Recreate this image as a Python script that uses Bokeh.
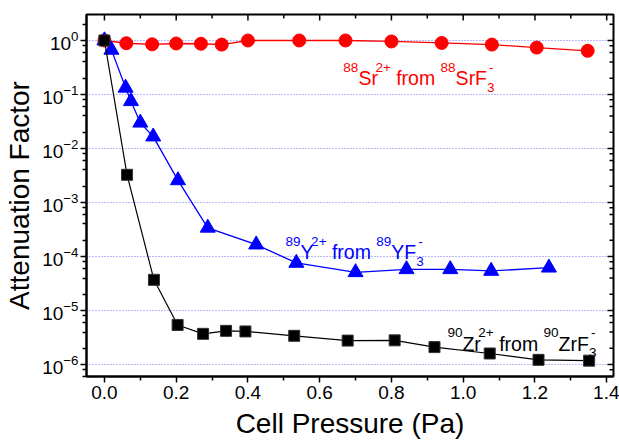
import math
from bokeh.plotting import figure
from bokeh.models import (Range1d, FixedTicker, Label, LogTickFormatter, NumeralTickFormatter)
from bokeh.embed import file_html
from bokeh.resources import INLINE

# ---- data ----
sr_x = [0.0, 0.061, 0.133, 0.200, 0.269, 0.327, 0.400, 0.543, 0.672, 0.800, 0.940, 1.080, 1.205, 1.347]
sr_y = [1.0, 0.89, 0.85, 0.88, 0.87, 0.84, 1.0, 1.0, 1.0, 0.96, 0.90, 0.84, 0.74, 0.645]

yy_x = [0.0, 0.0195, 0.059, 0.074, 0.100, 0.136, 0.205, 0.288, 0.423, 0.535, 0.700, 0.842, 0.964, 1.078, 1.239]
yy_y = [1.0, 0.67, 0.133, 0.075, 0.030, 0.0166, 0.00257, 3.4e-4, 1.66e-4, 7.6e-5, 5.1e-5, 5.8e-5, 5.8e-5, 5.4e-5, 6.2e-5]

zr_x = [0.0, 0.063, 0.138, 0.204, 0.275, 0.339, 0.393, 0.529, 0.678, 0.809, 0.920, 1.074, 1.210, 1.351]
zr_y = [1.0, 3.26e-3, 3.7e-5, 5.4e-6, 3.7e-6, 4.2e-6, 4.1e-6, 3.4e-6, 2.77e-6, 2.8e-6, 2.1e-6, 1.6e-6, 1.22e-6, 1.18e-6]

x_ticks = [0.0, 0.2, 0.4, 0.6, 0.8, 1.0, 1.2, 1.4]
x_minor = [0.1, 0.3, 0.5, 0.7, 0.9, 1.1, 1.3]
y_ticks = [1e-6, 1e-5, 1e-4, 1e-3, 1e-2, 1e-1, 1e0]
y_minor = [m * 10.0 ** e for e in range(-7, 1) for m in (2, 4, 6, 8)]

FONT = "Liberation Sans"
X0, X1 = -0.05, 1.419
Y0, Y1 = 6.0e-7, 3.03
FRAME_W, FRAME_H = 527.0, 362.0

p = figure(width=619, height=442, output_backend="svg", toolbar_location=None,
           y_axis_type="log",
           x_range=Range1d(X0, X1), y_range=Range1d(Y0, Y1),
           min_border_left=86, min_border_top=14, min_border_right=6, min_border_bottom=66)

p.background_fill_color = "white"
p.border_fill_color = "white"
p.outline_line_color = "black"
p.outline_line_width = 2
p.xgrid.visible = False
p.ygrid.ticker = FixedTicker(ticks=y_ticks)
p.ygrid.grid_line_color = "#7070ff"
p.ygrid.grid_line_dash = "1 2"
p.ygrid.grid_line_width = 1

xt = FixedTicker(ticks=x_ticks, minor_ticks=x_minor)
yt = FixedTicker(ticks=y_ticks, minor_ticks=y_minor)

for ax in (p.xaxis[0], p.yaxis[0]):
    ax.axis_line_color = "black"
    ax.axis_line_width = 2
    ax.major_tick_line_color = "black"
    ax.minor_tick_line_color = "black"
    ax.major_tick_line_width = 1.5
    ax.minor_tick_line_width = 1.5
    ax.major_tick_in, ax.major_tick_out = 0, 6
    ax.minor_tick_in, ax.minor_tick_out = 0, 4
    ax.major_label_text_font = FONT
    ax.major_label_text_font_size = "19px"
    ax.major_label_text_color = "black"
    ax.axis_label_text_font = FONT
    ax.axis_label_text_font_size = "28px"
    ax.axis_label_text_font_style = "normal"
    ax.axis_label_text_color = "black"

xa = p.xaxis[0]
xa.ticker = xt
xa.formatter = NumeralTickFormatter(format="0.0")
xa.axis_label = "Cell Pressure (Pa)"
xa.major_label_standoff = 3
xa.axis_label_standoff = 6

ya = p.yaxis[0]
ya.ticker = yt
ya.formatter = LogTickFormatter()
ya.axis_label = "Attenuation Factor"
ya.major_label_standoff = 2
ya.axis_label_standoff = 4

# ---- inward ticks on the top and right edges of the frame ----
PX_PER_DEC = FRAME_H / math.log10(Y1 / Y0)
PX_PER_X = FRAME_W / (X1 - X0)

def fy(px):
    return 10.0 ** (-px / PX_PER_DEC)

tick_kw = dict(line_color="black", line_width=1.5)
p.segment(x0=x_ticks, y0=[Y1] * len(x_ticks), x1=x_ticks, y1=[Y1 * fy(6)] * len(x_ticks), **tick_kw)
p.segment(x0=x_minor, y0=[Y1] * len(x_minor), x1=x_minor, y1=[Y1 * fy(4)] * len(x_minor), **tick_kw)
p.segment(x0=[X1] * len(y_ticks), y0=y_ticks, x1=[X1 - 6 / PX_PER_X] * len(y_ticks), y1=y_ticks, **tick_kw)
ym_in = [v for v in y_minor if Y0 < v < Y1]
p.segment(x0=[X1] * len(ym_in), y0=ym_in, x1=[X1 - 4 / PX_PER_X] * len(ym_in), y1=ym_in, **tick_kw)

# ---- series ----
p.line(sr_x, sr_y, line_color="#ff0000", line_width=1.3)
p.scatter(sr_x, sr_y, marker="circle", size=13, fill_color="#ff0000", line_color="#ff0000")

p.line(yy_x, yy_y, line_color="#0000ff", line_width=1.3)
p.scatter(yy_x, yy_y, marker="triangle", size=15, fill_color="#0000ff", line_color="#0000ff")

p.line(zr_x, zr_y, line_color="black", line_width=1.2)
p.scatter(zr_x, zr_y, marker="square", size=11, fill_color="black", line_color="#333333")

# ---- composed labels with super/subscripts ----
W = {'0': 556, '1': 556, '2': 556, '3': 556, '8': 556, '9': 556, 'S': 667, 'r': 333,
     '+': 584, ' ': 278, 'f': 278, 'o': 556, 'm': 833, 'F': 611, 'Y': 667, 'Z': 611, '-': 333}
MAIN, SCRIPT = 19.5, 13.5
SUP_DY, SUB_DY = 11, -9

def tw(s, size):
    return sum(W.get(c, 556) for c in s) * size / 1000.0

def put(x, y, text, off, dy, size, color):
    p.add_layout(Label(x=x, y=y, x_offset=off, y_offset=dy, text=text,
                       text_font=FONT, text_font_size=f"{size}px",
                       text_color=color, text_baseline="alphabetic",
                       text_align="left"))

def species(x, y, iso, el, charge, color):
    off = 0.0
    put(x, y, iso, off, SUP_DY, SCRIPT, color); off += tw(iso, SCRIPT)
    put(x, y, el, off, 0, MAIN, color); off += tw(el, MAIN) - 2.5
    put(x, y, charge, off, SUP_DY, SCRIPT, color); off += tw(charge, SCRIPT)
    off += tw(" ", MAIN)
    put(x, y, "from", off, 0, MAIN, color); off += tw("from ", MAIN)
    put(x, y, iso, off, SUP_DY, SCRIPT, color); off += tw(iso, SCRIPT)
    put(x, y, el + "F", off, 0, MAIN, color); off += tw(el + "F", MAIN)
    put(x, y, "3", off, SUB_DY, SCRIPT, color)
    put(x, y, "-", off + 2, SUP_DY, SCRIPT, color)

species(0.666, 0.20, "88", "Sr", "2+", "#ff0000")
species(0.505, 1.2e-4, "89", "Y", "2+", "#0000ff")
species(0.956, 2.42e-6, "90", "Zr", "2+", "black")

open("out.html", "w").write(file_html(p, INLINE))
